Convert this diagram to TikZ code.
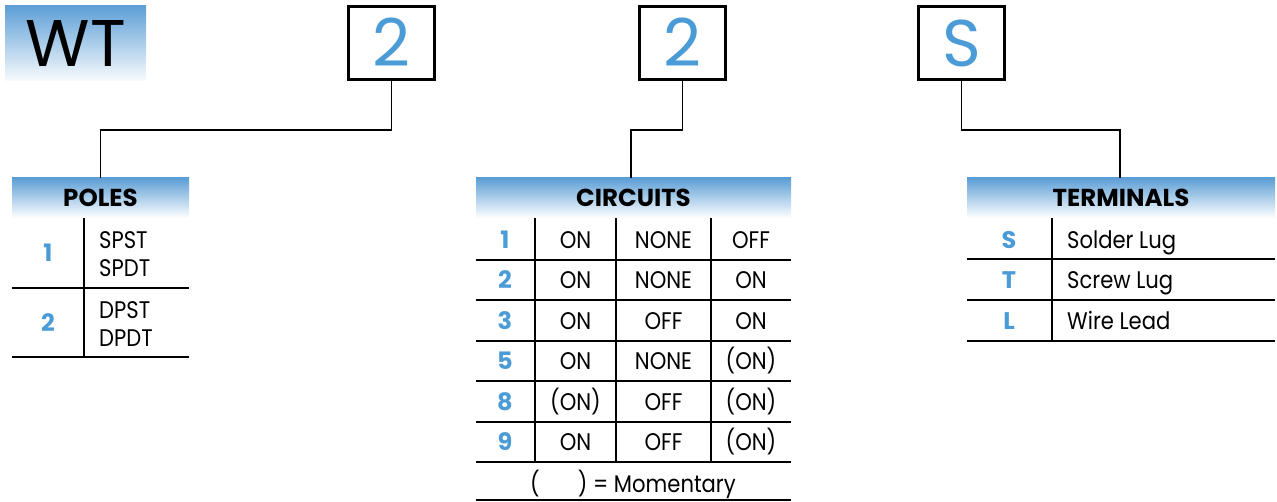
\documentclass[tikz,border=0pt]{standalone}
\usepackage{fontspec}
\setmainfont{Poppins}
\newfontfamily\narrowfont{Poppins}[FakeStretch=0.88]
\definecolor{hblue}{RGB}{92,158,214}
\definecolor{nblue}{RGB}{74,155,214}
\begin{document}
\begin{tikzpicture}[x=1pt,y=-1pt,
 digitbox/.style={draw=black,line width=2.2pt,minimum width=86pt,minimum height=73pt,inner sep=0pt,
   font=\fontsize{66}{66}\selectfont,text=nblue,text height=47pt,text depth=0pt},
 hdr/.style={top color=hblue,bottom color=white,minimum height=40pt,inner sep=0pt,
   font=\fontsize{24.5}{24.5}\selectfont\bfseries,text height=17.5pt,text depth=0pt},
 cell/.style={font=\narrowfont\fontsize{24}{24}\selectfont,inner sep=0pt,text height=17pt,text depth=0pt},
 num/.style={font=\fontsize{24}{24}\selectfont\bfseries,text=nblue,inner sep=0pt,text height=17pt,text depth=0pt},
 lcell/.style={cell,anchor=west},
 rule/.style={line width=1.3pt},
 conn/.style={line width=1.1pt}]
\useasboundingbox (0,0) rectangle (1277,502);

% title
\node[top color=hblue,bottom color=white!95!hblue,minimum width=141pt,minimum height=75pt,inner sep=0pt,
  anchor=north west,font=\fontsize{66}{66}\selectfont,text height=47pt,text depth=0pt] (wt) at (5,5) {WT};

% digit boxes
\node[digitbox] (b1) at (391.5,43) {2};
\node[digitbox] (b2) at (682.5,43) {2};
\node[digitbox] (b3) at (961.5,43) {S};

% headers
\node[hdr,minimum width=177pt] (poles) at (100.5,198) {POLES};
\node[hdr,minimum width=315pt] (circ) at (633.5,198) {CIRCUITS};
\node[hdr,minimum width=308pt] (term) at (1121,198) {TERMINALS};

% connectors
\coordinate (h) at (0,130);
\draw[conn] (b1.south) |- (poles.north |- h) -- (poles.north);
\draw[conn] (b2.south) |- ([xshift=-2.5pt]circ.north |- h) -- ([xshift=-2.5pt]circ.north);
\draw[conn] (b3.south) |- ([xshift=-1pt]term.north |- h) -- ([xshift=-1pt]term.north);

% POLES table
\draw[rule] (84,218) -- (84,357);
\draw[rule] (12,288) -- (189,288);
\draw[rule] (12,357) -- (189,357);
\node[num] (p1) at (48,253) {1};
\node[num] (p2) at (48,323) {2};
\node[lcell] (p1a) at (99,240) {SPST};
\node[lcell] (p1b) at (99,268) {SPDT};
\node[lcell] (p2a) at (99,310) {DPST};
\node[lcell] (p2b) at (99,338) {DPDT};

% CIRCUITS table
\foreach \xx in {535,616,711} \draw[rule] (\xx,218) -- (\xx,462);
\foreach \yy in {260,300,341,381,422,462,500} \draw[rule] (476,\yy) -- (791,\yy);
\foreach \n/\a/\b/\c/\yy in {1/ON/NONE/OFF/240, 2/ON/NONE/ON/280, 3/ON/OFF/ON/321,
   5/ON/NONE/(ON)/361, 8/(ON)/OFF/(ON)/402, 9/ON/OFF/(ON)/442}{
  \node[num] (c\n) at (505,\yy) {\n};
  \node[cell] (c\n a) at (575.5,\yy) {\a};
  \node[cell] (c\n b) at (663.5,\yy) {\b};
  \node[cell] (c\n c) at (751,\yy) {\c};
}
\node[cell] (mom) at (633,484) {(\hspace{38pt}) = Momentary};

% TERMINALS table
\draw[rule] (1052,218) -- (1052,341);
\foreach \yy in {259,300,341} \draw[rule] (967,\yy) -- (1275,\yy);
\node[num] (tS) at (1009,240) {S};
\node[num] (tT) at (1009,280) {T};
\node[num] (tL) at (1009,321) {L};
\node[lcell] (tSa) at (1067,240) {Solder Lug};
\node[lcell] (tTa) at (1067,280) {Screw Lug};
\node[lcell] (tLa) at (1067,321) {Wire Lead};
\end{tikzpicture}
\end{document}
